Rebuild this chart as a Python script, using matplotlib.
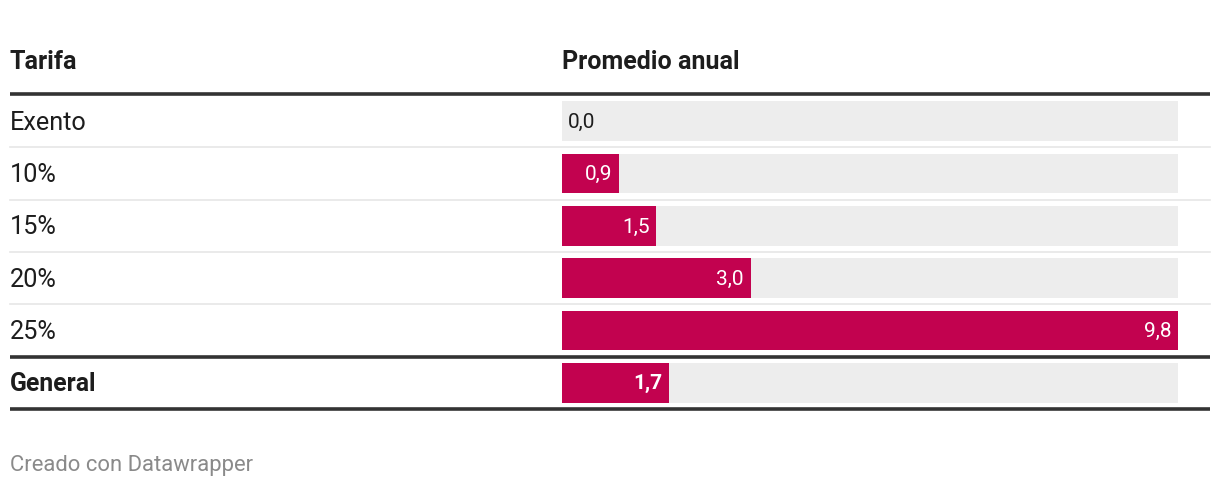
import matplotlib
matplotlib.use("Agg")
import matplotlib.pyplot as plt
from matplotlib.lines import Line2D
from matplotlib.transforms import blended_transform_factory

# data
tarifas = ["Exento", "10%", "15%", "20%", "25%", "General"]
promedio = [0.0, 0.9, 1.5, 3.0, 9.8, 1.7]
etiquetas = ["0,0", "0,9", "1,5", "3,0", "9,8", "1,7"]
maximo = 9.8

plt.rcParams['font.family'] = ['Roboto', 'DejaVu Sans']

W, H = 1220, 488
fig = plt.figure(figsize=(W / 100, H / 100), dpi=100)

barColor = '#c2024f'
trackColor = '#ededed'
textColor = '#1d1d1d'
lineDark = '#333333'
lineLight = '#e6e6e6'

# bar column: x 562..1178 px, rows from y 95..409 px
bx0, bx1 = 562, 1178
by0, by1 = 95, 409
bax = fig.add_axes([bx0 / W, 1 - by1 / H, (bx1 - bx0) / W, (by1 - by0) / H])
bax.set_xlim(0, maximo)
bax.set_ylim(len(tarifas) - 0.5, -0.5)
bax.axis('off')

ys = list(range(len(tarifas)))
bax.barh(ys, [maximo] * len(ys), height=0.76, color=trackColor, zorder=1)
bax.barh(ys, promedio, height=0.76, color=barColor, zorder=2)

for idx, (val, lab) in enumerate(zip(promedio, etiquetas)):
    bold = tarifas[idx] == "General"
    if val < 0.5:
        bax.annotate(lab, (val, idx), xytext=(4.3, -0.8), textcoords='offset points',
                     ha='left', va='center', fontsize=15, color=textColor, zorder=3)
    else:
        bax.annotate(lab, (val, idx), xytext=(-4.8, -0.8), textcoords='offset points',
                     ha='right', va='center', fontsize=15, color='white',
                     fontweight='bold' if bold else 'normal', zorder=3)

# row labels and rules
tr = blended_transform_factory(fig.transFigure, bax.transData)
for idx, name in enumerate(tarifas):
    bold = name == "General"
    fig.text(10 / W, idx + 0.03, name, transform=tr, ha='left', va='center',
             fontsize=18.2 if not bold else 17.8, color=textColor,
             fontweight='bold' if bold else 'normal')

for idx in range(len(tarifas) - 2):
    fig.add_artist(Line2D([10 / W, 1210 / W], [idx + 0.5, idx + 0.5], transform=tr,
                          color=lineLight, lw=1.2))
for yy in [-0.52, len(tarifas) - 1.5, len(tarifas) - 0.5]:
    fig.add_artist(Line2D([10 / W, 1210 / W], [yy, yy], transform=tr,
                          color=lineDark, lw=2.6, solid_capstyle='butt'))

# header
fig.text(10 / W, 1 - 62 / H, "Tarifa", ha='left', va='center', fontsize=18,
         fontweight='bold', color=textColor)
fig.text(562 / W, 1 - 62 / H, "Promedio anual", ha='left', va='center', fontsize=18,
         fontweight='bold', color=textColor)

# footer
fig.text(10 / W, 1 - 465 / H, "Creado con Datawrapper", ha='left', va='center',
         fontsize=15.8, color='#8a8a8a')

fig.savefig("out.png", dpi=100)
